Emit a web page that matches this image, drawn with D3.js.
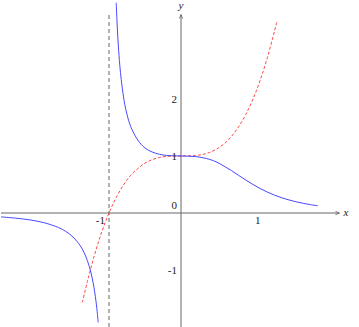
<!DOCTYPE html>
<html>
<head>
<meta charset="utf-8">
<script src="https://cdn.jsdelivr.net/npm/d3@7"></script>
<style>
  body { margin: 0; background: #fff; }
  text { font-family: "Liberation Serif", "DejaVu Serif", serif; fill: #222; }
</style>
</head>
<body>
<svg></svg>
<script>
var w = 359;
var h = 327;

// points
var blueLeftX = [-2.5, -2.3, -2.1, -1.9, -1.7, -1.6, -1.5, -1.4, -1.35, -1.3, -1.25, -1.22, -1.2, -1.18, -1.16, -1.15];
var blueLeftY = [-0.068, -0.09, -0.121, -0.171, -0.256, -0.323, -0.421, -0.573, -0.685, -0.835, -1.049, -1.226, -1.374, -1.555, -1.783, -1.92];

var blueRightX = [-0.9, -0.89, -0.88, -0.87, -0.85, -0.83, -0.8, -0.78, -0.75, -0.7, -0.6, -0.5, -0.4, -0.3, -0.2, 0, 0.2, 0.4, 0.5, 0.6, 0.7, 0.8, 0.9, 1.0, 1.1, 1.2, 1.3, 1.4, 1.5, 1.6, 1.7, 1.8, 1.9];
var blueRightY = [3.69, 3.39, 3.14, 2.93, 2.59, 2.34, 2.05, 1.9, 1.73, 1.52, 1.28, 1.14, 1.07, 1.03, 1.01, 1, 0.99, 0.94, 0.89, 0.82, 0.745, 0.66, 0.578, 0.5, 0.429, 0.367, 0.313, 0.267, 0.229, 0.196, 0.169, 0.146, 0.127];

var redX = [-1.37, -1.3, -1.2, -1.1, -1.0, -0.9, -0.8, -0.7, -0.6, -0.5, -0.4, -0.3, -0.2, 0, 0.2, 0.3, 0.4, 0.5, 0.6, 0.7, 0.8, 0.9, 1.0, 1.1, 1.2, 1.3, 1.335];
var redY = [-1.57, -1.2, -0.73, -0.33, 0, 0.27, 0.49, 0.66, 0.78, 0.875, 0.936, 0.973, 0.992, 1, 1.008, 1.027, 1.064, 1.125, 1.216, 1.343, 1.512, 1.729, 2, 2.331, 2.728, 3.197, 3.379];

var asymptoteX = -1;
var xTicks = [-1, 1];
var xTickLabels = ["-1", "1"];
var yTicks = [-1, 0, 1, 2];
var yTickLabels = ["-1", "0", "1", "2"];

var x = d3.scaleLinear().domain([-1, 1]).range([109, 253]);
var y = d3.scaleLinear().domain([0, 1]).range([213, 156]);

var svg = d3.select("svg").attr("width", w).attr("height", h);

svg.append("defs").append("marker")
  .attr("id", "arr")
  .attr("viewBox", "0 0 10 10")
  .attr("refX", 9).attr("refY", 5)
  .attr("markerWidth", 5).attr("markerHeight", 5)
  .attr("orient", "auto")
  .append("path")
  .attr("d", "M1,1.5 L9,5 L1,8.5")
  .style("fill", "none")
  .style("stroke", "#555")
  .style("stroke-width", 1.4);

// axes
svg.append("line")
  .attr("x1", x(-2.5)).attr("y1", y(0))
  .attr("x2", x(2.2)).attr("y2", y(0))
  .style("stroke", "#666").style("stroke-width", 1)
  .attr("marker-end", "url(#arr)");

svg.append("line")
  .attr("x1", x(0)).attr("y1", y(-2))
  .attr("x2", x(0)).attr("y2", y(3.48))
  .style("stroke", "#666").style("stroke-width", 1)
  .attr("marker-end", "url(#arr)");

// asymptote
svg.append("line")
  .attr("x1", x(asymptoteX)).attr("y1", y(-2))
  .attr("x2", x(asymptoteX)).attr("y2", y(3.48))
  .style("stroke", "#555").style("stroke-width", 0.9)
  .style("stroke-dasharray", "4,3");

var line = d3.line()
  .x((d) => x(d[0]))
  .y((d) => y(d[1]))
  .curve(d3.curveCatmullRom);

svg.append("path")
  .attr("d", line(d3.zip(redX, redY)))
  .style("fill", "none")
  .style("stroke", "#ff3333")
  .style("stroke-width", 0.9)
  .style("stroke-dasharray", "3,2");

[d3.zip(blueLeftX, blueLeftY), d3.zip(blueRightX, blueRightY)].forEach((pts) => {
  svg.append("path")
    .attr("d", line(pts))
    .style("fill", "none")
    .style("stroke", "#3333ff")
    .style("stroke-width", 0.9);
});

// tick labels
svg.selectAll("text.xt")
  .data(xTicks)
  .enter()
  .append("text")
  .attr("class", "xt")
  .attr("x", (d) => (d < 0 ? x(d) - 4 : x(d) + 2))
  .attr("y", y(0) + 11)
  .attr("text-anchor", (d) => (d < 0 ? "end" : "start"))
  .style("font-size", "11px")
  .text((d, i) => xTickLabels[i]);

svg.selectAll("text.yt")
  .data(yTicks)
  .enter()
  .append("text")
  .attr("class", "yt")
  .attr("x", x(0) - 4)
  .attr("y", (d) => (d === 0 ? y(d) - 4 : y(d) + 4))
  .attr("text-anchor", "end")
  .style("font-size", "11px")
  .text((d, i) => yTickLabels[i]);

svg.append("text")
  .attr("x", 346).attr("y", y(0) + 3)
  .attr("text-anchor", "middle")
  .style("font-size", "11px")
  .style("font-style", "italic")
  .text("x");

svg.append("text")
  .attr("x", x(0)).attr("y", 9)
  .attr("text-anchor", "middle")
  .style("font-size", "11px")
  .style("font-style", "italic")
  .text("y");
</script>
</body>
</html>
